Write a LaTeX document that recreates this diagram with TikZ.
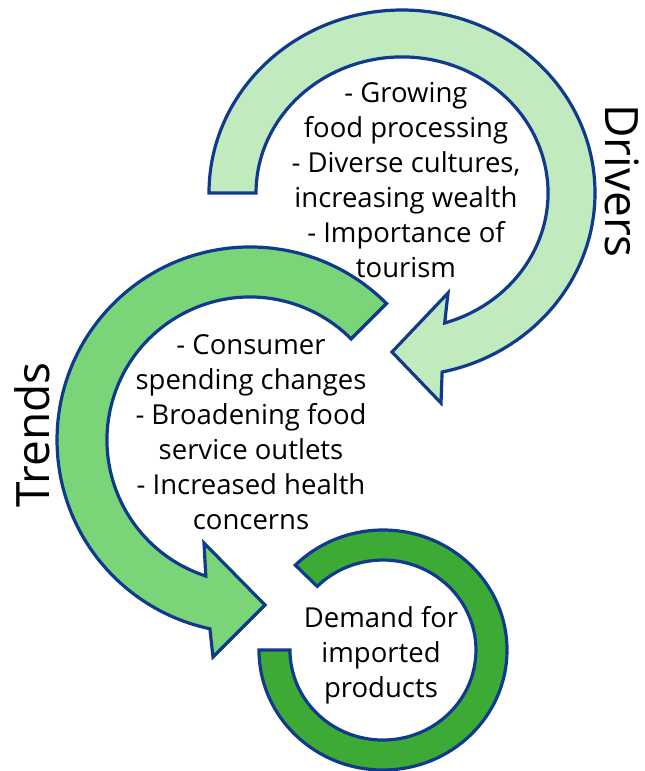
\documentclass[tikz,border=0pt]{standalone}
\usepackage{fontspec}
\setmainfont{Open Sans}
\definecolor{edge}{RGB}{16,58,142}
\definecolor{drvfill}{RGB}{193,234,191}
\definecolor{trdfill}{RGB}{121,213,120}
\definecolor{demfill}{RGB}{61,170,54}

\begin{document}
\begin{tikzpicture}[x=1pt,y=-1pt,
  band/.style={draw=edge,line width=3.2pt},
  txt/.style={align=center,inner sep=0pt,font=\fontsize{27.5}{35}\selectfont},
  side/.style={inner sep=0pt,font=\fontsize{46}{50}\selectfont}]
\useasboundingbox (0,0) rectangle (645,771);
\draw[band,fill=demfill](259,650) arc[start angle=180,end angle=-135,x radius=124,y radius=120]
  --(317.2,586.4) arc[start angle=-135,end angle=180,x radius=93,y radius=90]--cycle;
\draw[band,fill=trdfill](386.5,303.5) arc[start angle=-45,end angle=-258,radius=193]
  --(213,657)--(265,605)--(204,543)--(205.8,576) arc[start angle=-252,end angle=-45,radius=143]--cycle;
\draw[band,fill=drvfill](209,193) arc[start angle=180,end angle=438,x radius=193,y radius=183]
  --(441,403)--(392,352)--(448,293)--(444.7,323) arc[start angle=433,end angle=180,x radius=146,y radius=136]--cycle;
\node[txt] (drv) at (406,180) {- Growing\\food processing\\- Diverse cultures,\\increasing wealth\\- Importance of\\tourism};
\node[txt] (trd) at (251,432) {- Consumer\\spending changes\\- Broadening food\\service outlets\\- Increased health\\concerns};
\node[txt] (dem) at (381,655) {Demand for\\imported\\products};
\node[side,rotate=-90] (drvlab) at (622,181) {Drivers};
\node[side,rotate=90] (trdlab) at (32,435) {Trends};
\end{tikzpicture}
\end{document}
